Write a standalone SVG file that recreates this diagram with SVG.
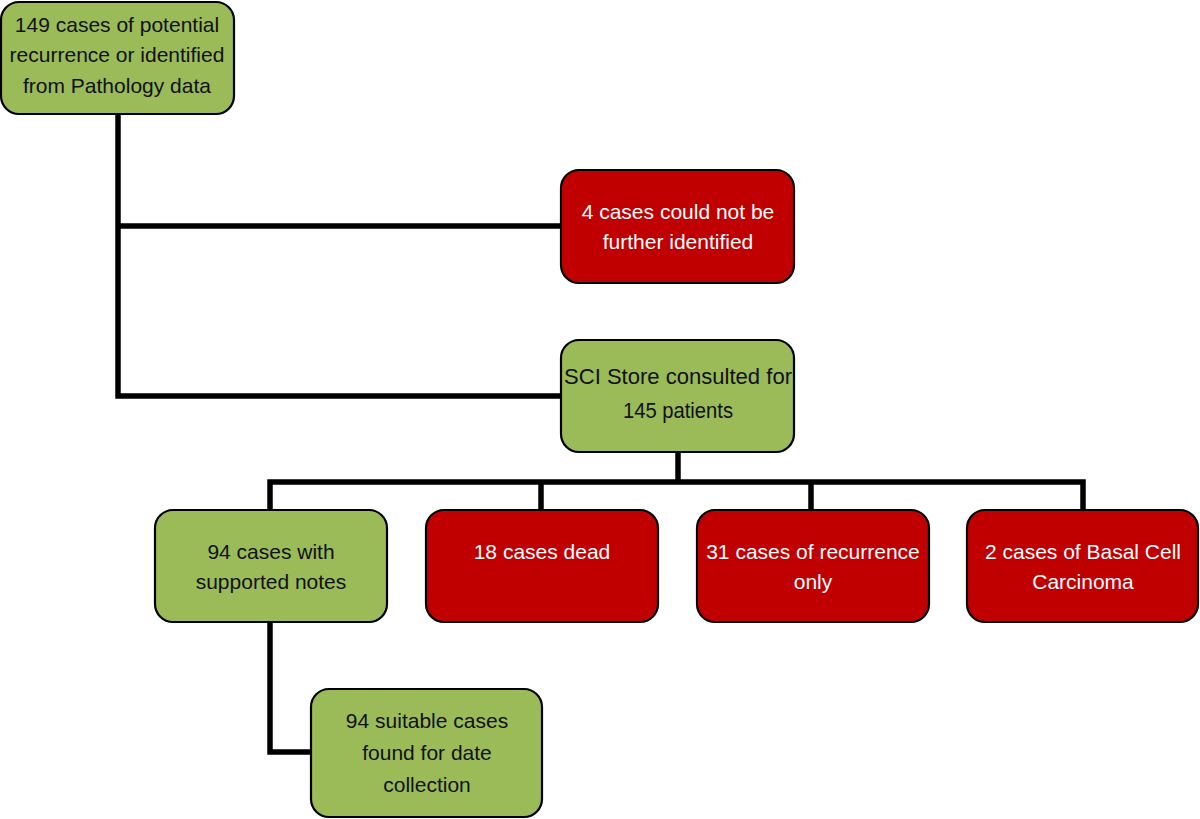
<svg xmlns="http://www.w3.org/2000/svg" width="1200" height="819" viewBox="0 0 1200 819">
<style>
.g{fill:#9bbb59;stroke:#000;stroke-width:2.2}
.r{fill:#c00000;stroke:#000;stroke-width:2.2}
text{font-family:"Liberation Sans",Arial,sans-serif;font-size:21px;text-anchor:middle}
.tb{fill:#111}
.tw{fill:#fff}
.n{font-size:22px}
.c{fill:none;stroke:#000;stroke-width:5.5}
</style>
<rect width="1200" height="819" fill="#fff"/>
<g id="connectors">
<path class="c" d="M118 114 V396 H561"/>
<path class="c" d="M118 226 H561"/>
<path class="c" d="M678 452 V482"/>
<path class="c" d="M270 510 V482 H1083 V510"/>
<path class="c" d="M541 482 V510"/>
<path class="c" d="M811 482 V510"/>
<path class="c" d="M270 622 V752 H311"/>
</g>
<g id="n1">
<rect class="g" x="1" y="2" width="233" height="112" rx="18"/>
<text class="tb" x="117" y="32">149 cases of potential</text>
<text class="tb" x="117" y="62">recurrence or identified</text>
<text class="tb" x="117" y="93">from Pathology data</text>
</g>
<g id="n2">
<rect class="r" x="561" y="170" width="233" height="113" rx="18"/>
<text class="tw" x="678" y="219">4 cases could not be</text>
<text class="tw" x="678" y="249">further identified</text>
</g>
<g id="n3">
<rect class="g" x="561" y="340" width="233" height="112" rx="18"/>
<text class="tb n" x="678" y="384" textLength="228" lengthAdjust="spacingAndGlyphs">SCI Store consulted for</text>
<text class="tb n" x="678" y="418" textLength="110" lengthAdjust="spacingAndGlyphs">145 patients</text>
</g>
<g id="n4">
<rect class="g" x="155" y="510" width="232" height="112" rx="18"/>
<text class="tb" x="271" y="559">94 cases with</text>
<text class="tb" x="271" y="589">supported notes</text>
</g>
<g id="n5">
<rect class="r" x="426" y="510" width="232" height="112" rx="18"/>
<text class="tw" x="542" y="559">18 cases dead</text>
</g>
<g id="n6">
<rect class="r" x="697" y="510" width="232" height="112" rx="18"/>
<text class="tw" x="813" y="559">31 cases of recurrence</text>
<text class="tw" x="813" y="589">only</text>
</g>
<g id="n7">
<rect class="r" x="967" y="510" width="231" height="112" rx="18"/>
<text class="tw" x="1083" y="559">2 cases of Basal Cell</text>
<text class="tw" x="1083" y="589">Carcinoma</text>
</g>
<g id="n8">
<rect class="g" x="311" y="689" width="231" height="128" rx="18"/>
<text class="tb" x="427" y="728">94 suitable cases</text>
<text class="tb" x="427" y="760">found for date</text>
<text class="tb" x="427" y="792">collection</text>
</g>
</svg>
